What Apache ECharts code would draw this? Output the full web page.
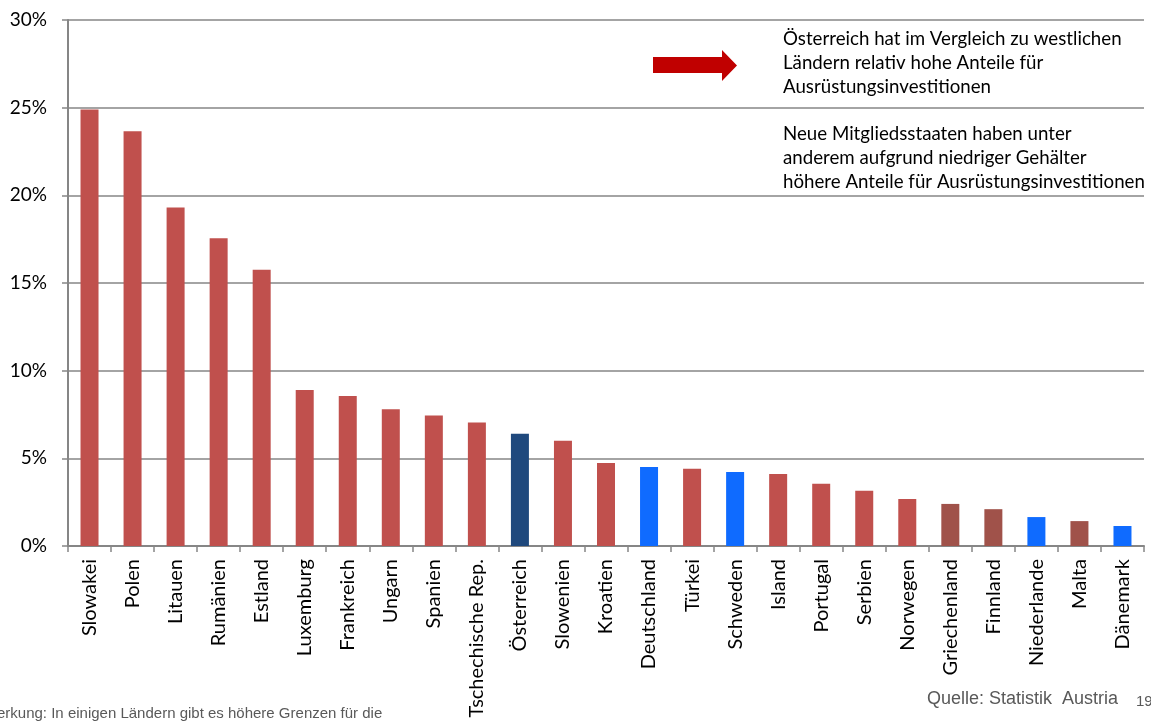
<!DOCTYPE html>
<html>
<head>
<meta charset="utf-8">
<script src="https://cdn.jsdelivr.net/npm/echarts@6/dist/echarts.min.js"></script>
<style>
  html, body { margin: 0; padding: 0; background: #fff; }
  #chart { width: 1151px; height: 722px; }
</style>
</head>
<body>
<div id="chart"></div>
<script>
// Anteil der Ausrüstungsinvestitionen, in Prozent
const countries = ['Slowakei', 'Polen', 'Litauen', 'Rumänien', 'Estland', 'Luxemburg', 'Frankreich',
  'Ungarn', 'Spanien', 'Tschechische Rep.', 'Österreich', 'Slowenien', 'Kroatien', 'Deutschland',
  'Türkei', 'Schweden', 'Island', 'Portugal', 'Serbien', 'Norwegen', 'Griechenland', 'Finnland',
  'Niederlande', 'Malta', 'Dänemark'];
const shares = [24.9, 23.65, 19.3, 17.55, 15.75, 8.9, 8.55, 7.8, 7.45, 7.05, 6.4, 6.0, 4.73, 4.5,
  4.4, 4.22, 4.1, 3.55, 3.15, 2.68, 2.4, 2.1, 1.65, 1.42, 1.14];
// Ländergruppe je Balken: 'neu' = neue Mitgliedsstaaten / übrige, 'at' = Österreich,
// 'west' = westliche Vergleichsländer, 'sued' = weitere
const groups = ['neu', 'neu', 'neu', 'neu', 'neu', 'neu', 'neu', 'neu', 'neu', 'neu', 'at', 'neu',
  'neu', 'west', 'neu', 'west', 'neu', 'neu', 'neu', 'neu', 'sued', 'sued', 'west', 'sued', 'west'];
const yTicks = [0, 5, 10, 15, 20, 25, 30];

const groupColors = { neu: '#C0504D', at: '#1F497D', west: '#0F6BFF', sued: '#A0524A' };
const FONT = 'Lato';

const chart = echarts.init(document.getElementById('chart'), null, { renderer: 'canvas' });

chart.setOption({
  animation: false,
  grid: { left: 68, right: 7, top: 20, bottom: 176, containLabel: false },
  xAxis: {
    type: 'category',
    data: countries,
    axisLine: { lineStyle: { color: '#868686', width: 2 } },
    axisTick: { show: true, alignWithLabel: false, length: 6, lineStyle: { color: '#868686', width: 1.5 } },
    axisLabel: {
      rotate: 90, interval: 0, margin: 13,
      fontFamily: FONT, fontSize: 20, color: '#000'
    }
  },
  yAxis: {
    type: 'value',
    min: yTicks[0], max: yTicks[yTicks.length - 1], interval: 5,
    axisLine: { show: true, lineStyle: { color: '#868686', width: 2 } },
    axisTick: { show: true, length: 6, lineStyle: { color: '#868686', width: 1.5 } },
    splitLine: { lineStyle: { color: '#868686', width: 1.5 } },
    axisLabel: {
      formatter: v => v + '%', margin: 21,
      fontFamily: FONT, fontSize: 19, color: '#000'
    }
  },
  series: [{
    type: 'bar',
    barWidth: 18,
    data: shares.map((v, i) => ({
      value: v,
      itemStyle: { color: groupColors[groups[i]] }
    }))
  }],
  graphic: [
    // Hinweispfeil
    {
      type: 'polygon', z: 10,
      shape: { points: [[653, 57], [722, 57], [722, 50], [737, 65.5], [722, 81], [722, 73], [653, 73]] },
      style: { fill: '#C00000' }
    },
    {
      type: 'text', left: 783, top: 27, z: 10,
      style: {
        text: 'Österreich hat im Vergleich zu westlichen\nLändern relativ hohe Anteile für\nAusrüstungsinvestitionen',
        font: '18.7px "Lato"', fill: '#000', lineHeight: 24
      }
    },
    {
      type: 'text', left: 783, top: 122, z: 10,
      style: {
        text: 'Neue Mitgliedsstaaten haben unter\nanderem aufgrund niedriger Gehälter\nhöhere Anteile für Ausrüstungsinvestitionen',
        font: '18.7px "Lato"', fill: '#000', lineHeight: 24
      }
    },
    {
      type: 'text', left: 927, top: 690, z: 10,
      style: { text: 'Quelle: Statistik  Austria', font: '18px "Liberation Sans"', fill: '#595959' }
    },
    {
      type: 'text', left: 1136, top: 694, z: 10,
      style: { text: '19', font: '15px "Liberation Sans"', fill: '#595959' }
    },
    {
      type: 'text', left: -3, top: 706, z: 10,
      style: { text: 'erkung: In einigen Ländern gibt es höhere Grenzen für die', font: '15px "Liberation Sans"', fill: '#595959' }
    }
  ]
});
</script>
</body>
</html>
